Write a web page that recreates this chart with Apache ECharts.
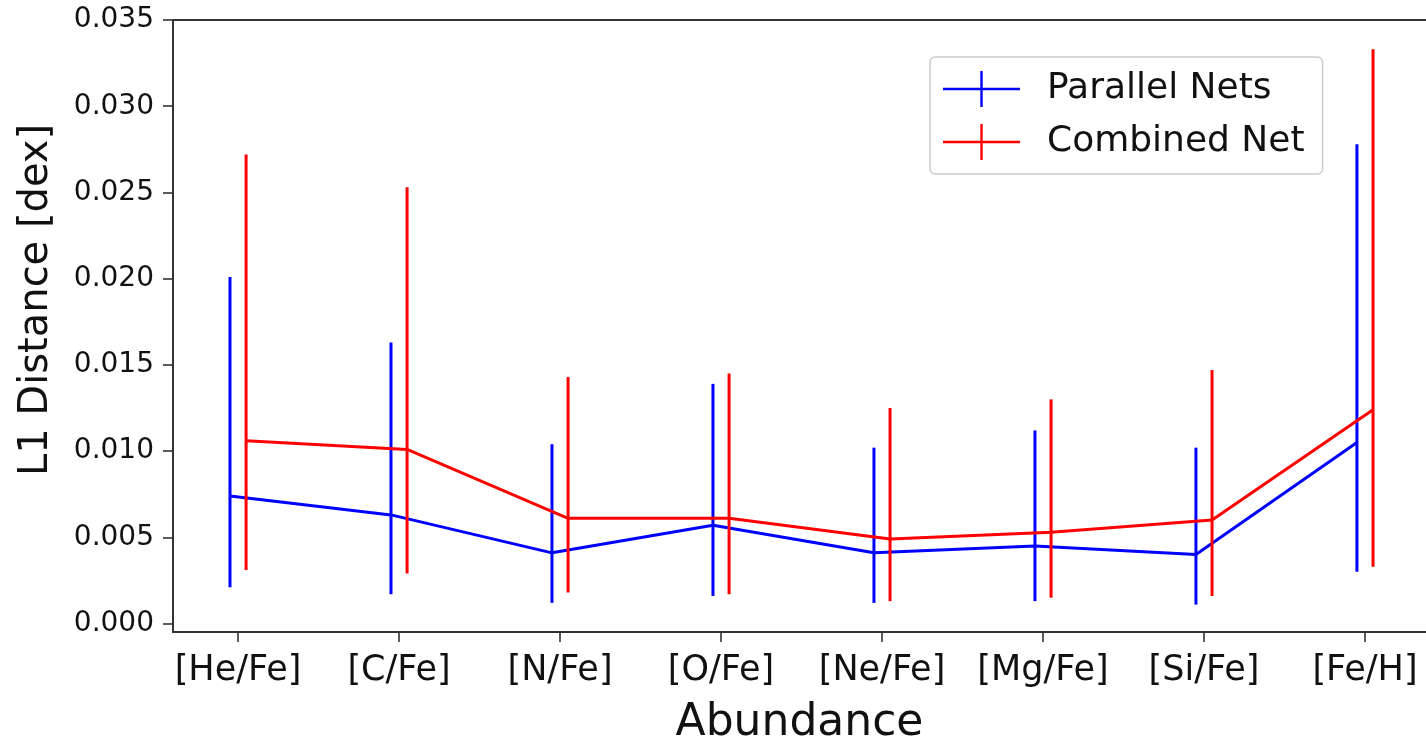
<!DOCTYPE html>
<html>
<head>
<meta charset="utf-8">
<title>L1 Distance by Abundance</title>
<script src="https://cdn.jsdelivr.net/npm/echarts@6/dist/echarts.min.js"></script>
<style>
  html, body { margin: 0; padding: 0; background: #ffffff; }
  #chart { width: 1426px; height: 737px; }
</style>
</head>
<body>
<div id="chart"></div>
<script>
// Abundance labels along the x axis
const categories = ['[He/Fe]', '[C/Fe]', '[N/Fe]', '[O/Fe]', '[Ne/Fe]', '[Mg/Fe]', '[Si/Fe]', '[Fe/H]'];

// Parallel Nets: mean L1 distance and the low/high ends of its error bar (dex)
const parallelMean = [0.0074, 0.0063, 0.0041, 0.0057, 0.0041, 0.0045, 0.0040, 0.0105];
const parallelLow  = [0.0021, 0.0017, 0.0012, 0.0016, 0.0012, 0.0013, 0.0011, 0.0030];
const parallelHigh = [0.0201, 0.0163, 0.0104, 0.0139, 0.0102, 0.0112, 0.0102, 0.0278];

// Combined Net: mean L1 distance and the low/high ends of its error bar (dex)
const combinedMean = [0.0106, 0.0101, 0.0061, 0.0061, 0.0049, 0.0053, 0.0060, 0.0124];
const combinedLow  = [0.0031, 0.0029, 0.0018, 0.0017, 0.0013, 0.0015, 0.0016, 0.0033];
const combinedHigh = [0.0272, 0.0253, 0.0143, 0.0145, 0.0125, 0.0130, 0.0147, 0.0333];

// y-axis tick values
const yTicks = [0, 0.005, 0.010, 0.015, 0.020, 0.025, 0.030, 0.035];

// the two series sit slightly either side of each category position
const OFFSET = 0.05;
const BLUE = '#0000ff';
const RED = '#ff0000';
const FONT = 'DejaVu Sans';
const AXIS_COLOR = '#333333';
const TEXT_COLOR = '#111111';

const catIndex = categories.map((_, i) => i);

function linePoints(mean, shift) {
  return mean.map((v, i) => [i + shift, v]);
}
function barPoints(low, high, shift) {
  return low.map((lo, i) => [i + shift, lo, high[i]]);
}

// vertical error bar without caps
function renderErrorBar(color) {
  return function (params, api) {
    const x = api.value(0);
    const lo = api.coord([x, api.value(1)]);
    const hi = api.coord([x, api.value(2)]);
    return {
      type: 'line',
      shape: { x1: lo[0], y1: lo[1], x2: hi[0], y2: hi[1] },
      style: { stroke: color, lineWidth: 3 }
    };
  };
}

// legend handle: a horizontal line crossed by a short vertical bar
const crossIcon = 'path://M0,16.8 L77,16.8 L77,19.2 L0,19.2 Z M37.3,0 L39.7,0 L39.7,36 L37.3,36 Z';

const chart = echarts.init(document.getElementById('chart'), null, { renderer: 'canvas' });

chart.setOption({
  animation: false,
  backgroundColor: '#ffffff',
  grid: { left: 173, right: 0, top: 20, bottom: 105, containLabel: false, outerBoundsMode: 'none' },
  // rotated y-axis title
  graphic: [
    {
      type: 'text',
      x: 37,
      y: 300,
      rotation: Math.PI / 2,
      style: {
        text: 'L1 Distance [dex]',
        font: '40px "DejaVu Sans"',
        fill: TEXT_COLOR,
        textAlign: 'center',
        textVerticalAlign: 'middle'
      }
    }
  ],
  legend: {
    orient: 'vertical',
    left: 930,
    top: 57,
    padding: [14, 18, 14, 13],
    itemWidth: 77,
    itemHeight: 36,
    itemGap: 17,
    backgroundColor: 'rgba(255,255,255,0.8)',
    borderColor: '#cccccc',
    borderWidth: 1.5,
    borderRadius: 5,
    textStyle: { fontFamily: FONT, fontSize: 36, color: TEXT_COLOR, padding: [0, 0, 0, 22], lineHeight: 36 },
    data: [
      { name: 'Parallel Nets', icon: crossIcon, itemStyle: { color: BLUE } },
      { name: 'Combined Net', icon: crossIcon, itemStyle: { color: RED } }
    ]
  },
  xAxis: [
    {
      type: 'value',
      position: 'bottom',
      min: -0.404,
      max: 7.379,
      name: 'Abundance',
      nameLocation: 'middle',
      nameGap: 70,
      nameTextStyle: { fontFamily: FONT, fontSize: 44, color: TEXT_COLOR },
      axisLine: { show: true, onZero: false, lineStyle: { color: AXIS_COLOR, width: 2 } },
      axisTick: { show: true, customValues: catIndex, length: 10, lineStyle: { color: AXIS_COLOR, width: 1.6 } },
      axisLabel: {
        show: true,
        customValues: catIndex,
        margin: 21,
        fontFamily: FONT,
        fontSize: 35,
        color: TEXT_COLOR,
        formatter: (v) => categories[Math.round(v)]
      },
      splitLine: { show: false }
    },
    {
      type: 'value',
      position: 'top',
      min: -0.404,
      max: 7.379,
      axisLine: { show: true, onZero: false, lineStyle: { color: AXIS_COLOR, width: 2 } },
      axisTick: { show: false },
      axisLabel: { show: false },
      splitLine: { show: false }
    }
  ],
  yAxis: {
    type: 'value',
    min: -0.00049,
    max: 0.035,
    axisLine: { show: true, onZero: false, lineStyle: { color: AXIS_COLOR, width: 2 } },
    axisTick: { show: true, customValues: yTicks, length: 10, lineStyle: { color: AXIS_COLOR, width: 1.6 } },
    axisLabel: {
      show: true,
      customValues: yTicks,
      margin: 19,
      fontFamily: FONT,
      fontSize: 28,
      color: TEXT_COLOR,
      formatter: (v) => v.toFixed(3)
    },
    splitLine: { show: false }
  },
  series: [
    {
      name: 'Parallel Nets',
      type: 'custom',
      xAxisIndex: 0,
      renderItem: renderErrorBar(BLUE),
      data: barPoints(parallelLow, parallelHigh, -OFFSET),
      z: 2,
      silent: true
    },
    {
      name: 'Parallel Nets',
      type: 'line',
      xAxisIndex: 0,
      data: linePoints(parallelMean, -OFFSET),
      showSymbol: false,
      symbol: 'none',
      lineStyle: { color: BLUE, width: 3 },
      itemStyle: { color: BLUE },
      z: 3
    },
    {
      name: 'Combined Net',
      type: 'custom',
      xAxisIndex: 0,
      renderItem: renderErrorBar(RED),
      data: barPoints(combinedLow, combinedHigh, OFFSET),
      z: 4,
      silent: true
    },
    {
      name: 'Combined Net',
      type: 'line',
      xAxisIndex: 0,
      data: linePoints(combinedMean, OFFSET),
      showSymbol: false,
      symbol: 'none',
      lineStyle: { color: RED, width: 3 },
      itemStyle: { color: RED },
      z: 5
    }
  ]
});
</script>
</body>
</html>
